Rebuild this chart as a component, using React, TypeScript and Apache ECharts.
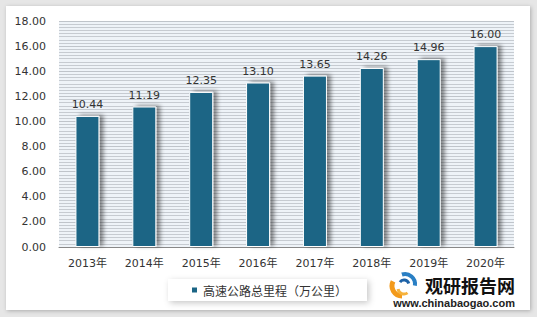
import React, { useEffect, useRef } from "react";
import * as echarts from "echarts";

const categories = ["2013年", "2014年", "2015年", "2016年", "2017年", "2018年", "2019年", "2020年"];
const values = [10.44, 11.19, 12.35, 13.1, 13.65, 14.26, 14.96, 16.0];
const seriesName = "高速公路总里程（万公里）";

const numFont = "'DejaVu Sans', Verdana, sans-serif";
const cjkFont = "'DejaVu Sans', 'Noto Sans CJK SC', sans-serif";

export default function App() {
  const ref = useRef<HTMLDivElement>(null);
  useEffect(() => {
    const chart = echarts.init(ref.current!, null, { renderer: "svg" });
    chart.setOption({
      animation: false,
      backgroundColor: "transparent",
      grid: {
        left: 53,
        right: 16,
        top: 15,
        bottom: 63,
        show: true,
        backgroundColor: "#eef3f8",
        borderWidth: 0,
      },
      legend: {
        show: true,
        left: 162,
        top: 273,
        itemWidth: 7,
        itemHeight: 7,
        icon: "rect",
        padding: [5, 20, 5, 22],
        backgroundColor: "#fff",
        shadowColor: "rgba(0,0,0,0.22)",
        shadowBlur: 6,
        shadowOffsetX: 2,
        shadowOffsetY: 2,
        textStyle: { fontSize: 12, color: "#333", fontFamily: "'Noto Sans CJK SC', sans-serif" },
        itemGap: 4,
      },
      xAxis: {
        type: "category",
        data: categories,
        axisLine: { show: true, lineStyle: { color: "#888", width: 1 } },
        axisTick: { show: false },
        axisLabel: { color: "#333", fontSize: 11, margin: 11, fontFamily: cjkFont },
      },
      yAxis: {
        type: "value",
        min: 0,
        max: 18,
        interval: 2,
        axisLine: { show: false },
        axisTick: { show: false },
        axisLabel: {
          color: "#333",
          fontSize: 11,
          margin: 13,
          fontFamily: numFont,
          formatter: (v: number) => v.toFixed(2),
        },
        splitLine: { show: true, lineStyle: { color: "#bfc4ca", width: 1 } },
        minorTick: { show: false, splitNumber: 8 },
        minorSplitLine: { show: true, lineStyle: { color: "#c6cbd1", width: 1 } },
      },
      series: [
        {
          name: seriesName,
          type: "bar",
          data: values,
          barWidth: 24,
          itemStyle: {
            color: "#1b6585",
            borderColor: "#ffffff",
            borderWidth: 1,
            shadowColor: "rgba(0,0,0,0.45)",
            shadowBlur: 4,
            shadowOffsetX: 4,
            shadowOffsetY: -1,
          },
          label: {
            show: true,
            position: "top",
            distance: 6,
            color: "#333",
            fontSize: 11,
            fontFamily: numFont,
            formatter: (p: any) => Number(p.value).toFixed(2),
          },
        },
      ],
      graphic: [
        { type: "arc", shape: { cx: 396, cy: 280, r: 10, startAngle: Math.PI * 0.5, endAngle: Math.PI * 1.15 }, style: { stroke: "#f39a1b", lineWidth: 5, fill: "none" } },
        { type: "arc", shape: { cx: 398, cy: 282, r: 6, startAngle: Math.PI * 0.3, endAngle: Math.PI * 0.95 }, style: { stroke: "#f6b23c", lineWidth: 3, fill: "none" } },
        { type: "arc", shape: { cx: 399, cy: 278, r: 10, startAngle: Math.PI * 1.4, endAngle: Math.PI * 2.05 }, style: { stroke: "#2a7fc4", lineWidth: 4, fill: "none" } },
        { type: "arc", shape: { cx: 398, cy: 279, r: 5, startAngle: Math.PI * 1.2, endAngle: Math.PI * 1.9 }, style: { stroke: "#1e63a8", lineWidth: 3, fill: "none" } },
        {
          type: "text",
          x: 419,
          y: 279,
          style: {
            text: "观研报告网",
            fontSize: 18,
            fontWeight: "bold",
            fill: "#111",
            textVerticalAlign: "middle",
            fontFamily: "'Noto Sans CJK SC', sans-serif",
          },
        },
        {
          type: "text",
          x: 509,
          y: 297,
          style: {
            text: "www.chinabaogao.com",
            fontSize: 11,
            fontWeight: "bold",
            fill: "#222",
            textAlign: "right",
            textVerticalAlign: "middle",
            fontFamily: "'Liberation Sans', Arial, sans-serif",
          },
        },
      ],
    });
    return () => chart.dispose();
  }, []);
  return (
    <div style={{ position: "fixed", left: 0, top: 0, width: 537, height: 317, background: "#e6e6e6" }}>
      <div
        style={{
          position: "absolute",
          left: 6,
          top: 6,
          width: 524,
          height: 304,
          background: "#fff",
          boxShadow: "1px 1px 4px rgba(0,0,0,0.25)",
        }}
      >
        <div ref={ref} style={{ width: 524, height: 304 }} />
      </div>
    </div>
  );
}
